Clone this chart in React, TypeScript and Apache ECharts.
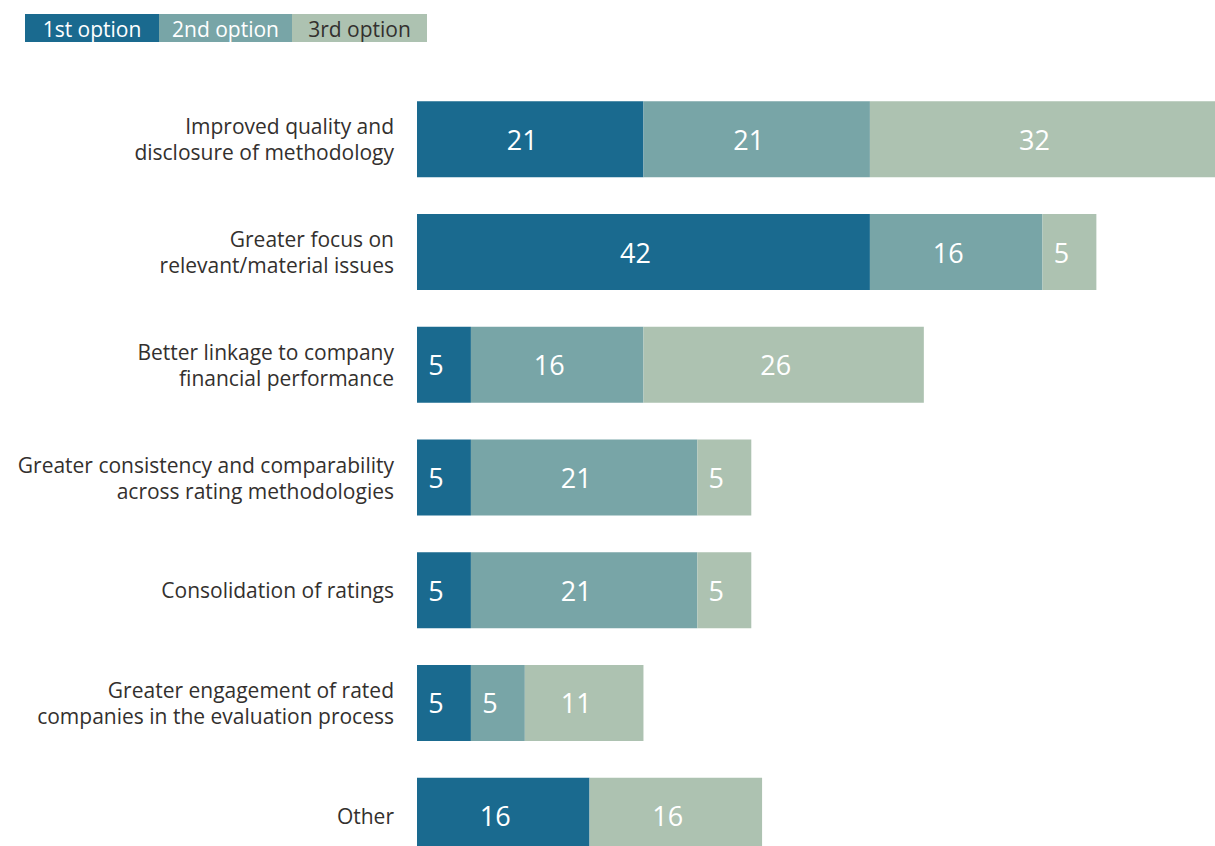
import React, { useEffect, useRef } from "react";
import * as echarts from "echarts";

const categories = [
  "Improved quality and\ndisclosure of methodology",
  "Greater focus on\nrelevant/material issues",
  "Better linkage to company\nfinancial performance",
  "Greater consistency and comparability\nacross rating methodologies",
  "Consolidation of ratings",
  "Greater engagement of rated\ncompanies in the evaluation process",
  "Other",
];
const seriesNames = ["1st option", "2nd option", "3rd option"];
const firstOption = [21, 42, 5, 5, 5, 5, 16];
const secondOption = [21, 16, 16, 21, 21, 5, 0];
const thirdOption = [32, 5, 26, 5, 5, 11, 16];
const colors = ["#1a6a8f", "#78a5a7", "#adc2b1"];
const legendTextColors = ["#ffffff", "#ffffff", "#33302e"];

const FONT = "'Open Sans', sans-serif";

export default function App() {
  const ref = useRef<HTMLDivElement>(null);
  useEffect(() => {
    if (!ref.current) return;
    const chart = echarts.init(ref.current, null, { renderer: "svg" });
    const values = [firstOption, secondOption, thirdOption];
    const legendX = [25, 159, 292];
    const legendW = [134, 133, 135];
    const graphic: any[] = [];
    seriesNames.forEach((n, i) => {
      graphic.push({
        type: "rect",
        left: legendX[i],
        top: 14,
        shape: { width: legendW[i], height: 28 },
        style: { fill: colors[i] },
      });
      graphic.push({
        type: "text",
        x: legendX[i] + legendW[i] / 2,
        y: 29,
        style: {
          text: n,
          fill: legendTextColors[i],
          font: `21px ${FONT}`,
          textAlign: "center",
          textVerticalAlign: "middle",
        },
      });
    });
    chart.setOption({
      animation: false,
      textStyle: { fontFamily: FONT },
      grid: {
        left: 417,
        right: 0,
        top: 83,
        height: 789,
        containLabel: false,
        outerBoundsMode: "none",
      },
      xAxis: {
        type: "value",
        min: 0,
        max: 74,
        show: false,
      },
      yAxis: {
        type: "category",
        data: categories,
        inverse: true,
        axisLine: { show: false },
        axisTick: { show: false },
        axisLabel: {
          margin: 23,
          fontSize: 21,
          lineHeight: 26,
          color: "#33302e",
          fontFamily: FONT,
          align: "right",
        },
      },
      graphic,
      series: seriesNames.map((name, i) => ({
        name,
        type: "bar",
        stack: "total",
        barWidth: 76,
        data: values[i],
        itemStyle: { color: colors[i] },
        label: {
          show: true,
          position: "inside",
          offset: [-8, 0],
          color: "#ffffff",
          fontSize: 27,
          fontFamily: FONT,
          formatter: (p: any) => (p.value ? String(p.value) : ""),
        },
      })),
    });
    return () => chart.dispose();
  }, []);
  return (
    <div
      ref={ref}
      style={{ position: "absolute", left: 0, top: 0, width: 1215, height: 846 }}
    />
  );
}
